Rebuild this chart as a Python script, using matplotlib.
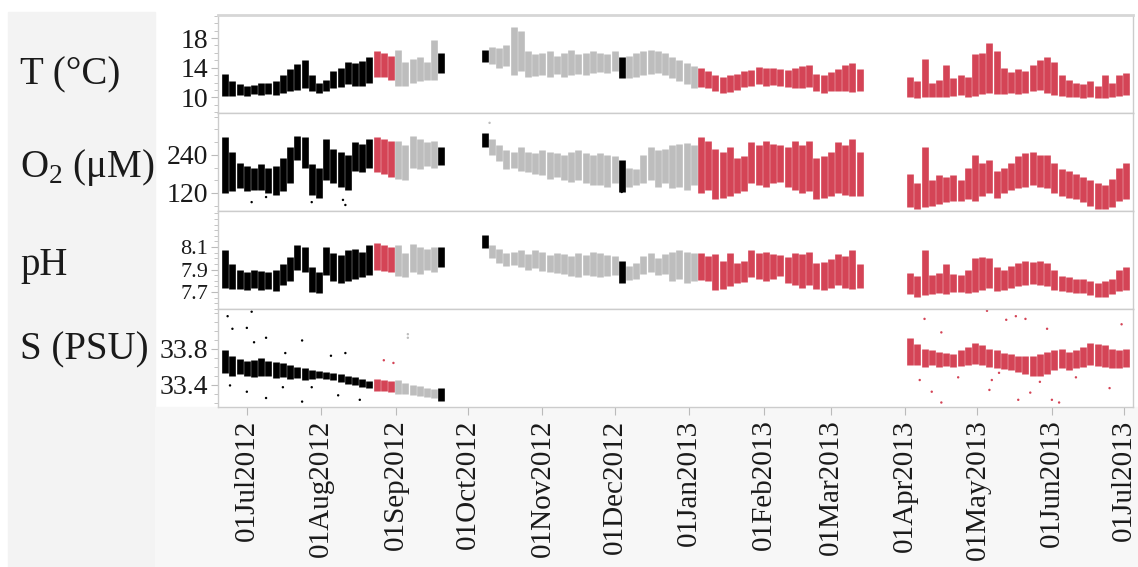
import numpy as np
import pandas as pd
import matplotlib
matplotlib.use("Agg")
import matplotlib.pyplot as plt
import matplotlib.dates as mdates
from matplotlib.ticker import MultipleLocator, FixedLocator
from matplotlib.patches import Rectangle

plt.rcParams['font.family'] = ['Liberation Serif', 'DejaVu Serif']
plt.rcParams['mathtext.fontset'] = 'custom'
plt.rcParams['mathtext.rm'] = 'Liberation Serif'

nan = np.nan

# amostras a cada 3 dias a partir de 22 Jun 2012
dates = pd.date_range("2012-06-22", periods=126, freq="3D")

# periodos de cor (inicio, cor)
period_start = pd.to_datetime(["2012-06-01", "2012-08-22", "2012-09-01", "2012-09-19",
                               "2012-10-09", "2012-12-03", "2012-12-05", "2013-01-05"])
period_colour = ["black", "red", "grey", "black", "grey", "black", "grey", "red"]

# Temperatura (faixa min / max de cada amostra)
t_lo = [10.2, 10.2, 10.3, 10.2, 10.4, 10.3, 10.5, 10.3, 10.6, 10.8,
        11.0, 11.2, 10.9, 10.6, 10.8, 11.2, 11.4, 11.8, 11.6, 11.5,
        12.0, 12.8, 12.8, 12.3, 11.6, 11.5, 12.0, 12.2, 12.4, 12.3,
        13.3, nan, nan, nan, nan, nan, 14.8, 14.5, 14.0, 14.2,
        13.0, 13.5, 12.7, 12.9, 13.0, 12.8, 13.2, 12.8, 13.0, 13.2,
        13.0, 13.3, 13.4, 13.3, 13.5, 12.6, 12.6, 12.8, 13.0, 13.2,
        13.3, 13.0, 12.6, 12.2, 11.8, 11.3, 11.4, 11.2, 10.8, 10.6,
        10.7, 11.0, 11.4, 11.6, 11.8, 11.6, 11.7, 11.5, 11.4, 11.3,
        11.2, 11.4, 10.8, 10.6, 10.8, 10.9, 10.8, 10.7, 10.8, nan,
        nan, nan, nan, nan, nan, 10.0, 9.9, 10.0, 10.1, 10.1,
        10.0, 10.2, 10.3, 10.1, 10.2, 10.4, 10.6, 10.4, 10.5, 10.6,
        10.4, 10.6, 10.8, 11.0, 10.6, 10.3, 10.2, 10.0, 10.0, 9.9,
        10.0, 9.9, 9.9, 10.0, 10.2, 10.3]
t_hi = [13.2, 12.2, 11.8, 11.6, 11.7, 11.9, 12.0, 12.2, 13.0, 13.8,
        14.5, 15.0, 13.0, 12.0, 12.4, 13.6, 14.0, 14.8, 14.6, 14.9,
        15.4, 16.2, 16.0, 15.6, 16.4, 14.8, 15.2, 15.4, 14.8, 17.8,
        16.0, nan, nan, nan, nan, nan, 16.4, 16.8, 16.6, 17.0,
        19.5, 19.0, 16.2, 15.8, 16.0, 16.3, 15.6, 16.0, 16.4, 15.8,
        16.0, 16.2, 16.0, 15.8, 16.2, 15.4, 15.6, 16.0, 16.2, 16.4,
        16.2, 16.0, 15.4, 15.0, 14.6, 14.2, 14.0, 13.6, 13.0, 12.8,
        13.0, 13.2, 13.5, 13.7, 14.1, 13.9, 14.0, 13.8, 13.7, 13.9,
        14.2, 14.4, 13.2, 13.0, 13.4, 13.8, 14.3, 14.6, 13.8, nan,
        nan, nan, nan, nan, nan, 12.7, 12.2, 15.2, 12.0, 12.4,
        14.4, 12.6, 13.0, 12.8, 15.8, 16.0, 17.3, 16.2, 14.0, 13.4,
        13.8, 13.6, 14.4, 15.0, 15.4, 14.8, 13.0, 12.4, 12.0, 11.8,
        12.2, 11.6, 13.0, 12.0, 13.0, 13.3]

# Oxigenio
o_lo = [120, 125, 135, 125, 130, 128, 120, 115, 125, 150,
        225, 200, 115, 105, 160, 150, 140, 130, 190, 185,
        200, 185, 180, 170, 165, 160, 200, 195, 205, 200,
        208, nan, nan, nan, nan, nan, 265, 240, 220, 195,
        200, 190, 185, 180, 175, 165, 170, 160, 155, 160,
        150, 145, 145, 140, 150, 123, 140, 145, 150, 160,
        140, 150, 135, 140, 130, 145, 120, 130, 100, 105,
        110, 120, 125, 150, 145, 140, 150, 155, 140, 130,
        120, 125, 100, 105, 110, 120, 115, 110, 110, nan,
        nan, nan, nan, nan, nan, 75, 70, 75, 80, 85,
        90, 95, 95, 100, 95, 110, 120, 105, 120, 130,
        135, 140, 145, 140, 135, 120, 110, 105, 100, 90,
        80, 70, 68, 75, 95, 100]
o_hi = [297, 250, 215, 205, 200, 210, 200, 205, 230, 265,
        300, 295, 210, 200, 290, 260, 250, 240, 280, 275,
        290, 295, 290, 285, 285, 270, 300, 290, 280, 285,
        265, nan, nan, nan, nan, nan, 310, 290, 270, 255,
        250, 265, 250, 245, 255, 250, 245, 240, 250, 255,
        245, 240, 245, 240, 235, 224, 200, 195, 240, 265,
        255, 260, 270, 275, 278, 270, 297, 285, 260, 250,
        265, 230, 235, 280, 270, 285, 275, 270, 265, 285,
        270, 285, 230, 235, 250, 280, 270, 290, 250, nan,
        nan, nan, nan, nan, nan, 180, 150, 265, 160, 175,
        170, 175, 160, 200, 240, 215, 225, 190, 200, 215,
        235, 245, 250, 240, 240, 215, 195, 190, 180, 170,
        160, 150, 145, 165, 200, 215]

# pH
p_lo = [7.74, 7.73, 7.73, 7.72, 7.74, 7.72, 7.73, 7.71, 7.76, 7.80,
        7.90, 7.88, 7.70, 7.69, 7.85, 7.80, 7.78, 7.80, 7.82, 7.83,
        7.85, 7.90, 7.89, 7.88, 7.84, 7.83, 7.88, 7.86, 7.90, 7.88,
        7.92, nan, nan, nan, nan, nan, 8.09, 8.00, 7.96, 7.93,
        7.94, 7.92, 7.90, 7.91, 7.89, 7.88, 7.87, 7.86, 7.84, 7.83,
        7.85, 7.84, 7.83, 7.84, 7.85, 7.78, 7.81, 7.82, 7.86, 7.88,
        7.85, 7.86, 7.80, 7.82, 7.78, 7.80, 7.81, 7.80, 7.72, 7.73,
        7.75, 7.78, 7.79, 7.83, 7.82, 7.80, 7.82, 7.84, 7.78, 7.76,
        7.74, 7.76, 7.73, 7.72, 7.74, 7.76, 7.74, 7.73, 7.74, nan,
        nan, nan, nan, nan, nan, 7.68, 7.66, 7.67, 7.68, 7.69,
        7.68, 7.70, 7.70, 7.69, 7.70, 7.72, 7.74, 7.71, 7.72, 7.74,
        7.75, 7.76, 7.77, 7.76, 7.75, 7.72, 7.71, 7.70, 7.69, 7.69,
        7.67, 7.66, 7.66, 7.68, 7.71, 7.72]
p_hi = [8.07, 7.95, 7.90, 7.88, 7.90, 7.89, 7.88, 7.90, 7.95, 8.01,
        8.12, 8.10, 7.92, 7.88, 8.10, 8.05, 8.03, 8.07, 8.08, 8.06,
        8.12, 8.14, 8.12, 8.10, 8.12, 8.05, 8.13, 8.10, 8.08, 8.10,
        8.10, nan, nan, nan, nan, nan, 8.21, 8.12, 8.08, 8.05,
        8.06, 8.07, 8.04, 8.07, 8.06, 8.03, 8.05, 8.04, 8.02, 8.05,
        8.03, 8.06, 8.05, 8.03, 8.02, 7.98, 7.93, 7.96, 8.02, 8.05,
        8.00, 8.04, 8.06, 8.07, 8.06, 8.05, 8.05, 8.02, 8.04, 7.98,
        8.05, 7.96, 7.98, 8.07, 8.05, 8.06, 8.04, 8.03, 8.01, 8.05,
        8.04, 8.06, 7.96, 7.97, 7.99, 8.04, 8.02, 8.07, 7.95, nan,
        nan, nan, nan, nan, nan, 7.87, 7.84, 8.07, 7.85, 7.87,
        7.95, 7.86, 7.85, 7.90, 8.00, 8.01, 8.00, 7.92, 7.90, 7.93,
        7.96, 7.98, 7.97, 7.98, 7.96, 7.90, 7.84, 7.83, 7.82, 7.82,
        7.80, 7.78, 7.80, 7.82, 7.90, 7.92]

# Salinidade
s_lo = ([33.53, 33.50, 33.52, 33.50, 33.48, 33.50, 33.49, 33.47, 33.48, 33.46,
         33.47, 33.45, 33.46, 33.47, 33.46, 33.45, 33.43, 33.41, 33.39, 33.37,
         33.36, 33.33, 33.33, 33.32, 33.30, 33.30, 33.28, 33.27, 33.26, 33.25,
         33.22] + [nan] * 64 +
        [33.62, 33.62, 33.60, 33.62, 33.60,
         33.61, 33.60, 33.61, 33.62, 33.63, 33.62, 33.60, 33.58, 33.57, 33.56,
         33.54, 33.52, 33.50, 33.50, 33.52, 33.56, 33.58, 33.56, 33.58, 33.60,
         33.62, 33.61, 33.60, 33.58, 33.58, 33.60])
s_hi = ([33.78, 33.72, 33.68, 33.66, 33.67, 33.70, 33.66, 33.65, 33.64, 33.62,
         33.60, 33.58, 33.56, 33.55, 33.54, 33.53, 33.52, 33.50, 33.48, 33.46,
         33.44, 33.46, 33.45, 33.44, 33.45, 33.42, 33.40, 33.38, 33.36, 33.35,
         33.36] + [nan] * 64 +
        [33.92, 33.85, 33.80, 33.78, 33.76,
         33.75, 33.74, 33.78, 33.82, 33.86, 33.84, 33.80, 33.78, 33.75, 33.74,
         33.72, 33.72, 33.72, 33.74, 33.76, 33.78, 33.80, 33.76, 33.78, 33.82,
         33.86, 33.85, 33.84, 33.80, 33.78, 33.80])

# pontos isolados
o_out_dates = ["2012-07-03", "2012-07-09", "2012-07-28", "2012-08-10", "2012-08-11",
               "2012-10-10", "2012-12-04"]
o_out_vals = [91, 107, 91, 98, 82, 341, 123]
s_out_dates = ["2012-06-23", "2012-06-24", "2012-06-25", "2012-07-01", "2012-07-01",
               "2012-07-03", "2012-07-04", "2012-07-09", "2012-07-09", "2012-07-16",
               "2012-07-17", "2012-07-24", "2012-07-24", "2012-07-28", "2012-08-05",
               "2012-08-08", "2012-08-11", "2012-08-17", "2012-08-27", "2012-08-31",
               "2012-09-06", "2012-09-06",
               "2013-04-07", "2013-04-09", "2013-04-12", "2013-04-16", "2013-04-16",
               "2013-04-23", "2013-05-05", "2013-05-06", "2013-05-07", "2013-05-10",
               "2013-05-13", "2013-05-17", "2013-05-18", "2013-05-21", "2013-05-23",
               "2013-05-27", "2013-05-30", "2013-06-01", "2013-06-04", "2013-06-11",
               "2013-06-25", "2013-06-30"]
s_out_vals = [34.16, 33.39, 34.02, 34.03, 33.32, 34.21, 33.87, 33.92, 33.25, 33.37,
              33.75, 33.89, 33.21, 33.37, 33.72, 33.28, 33.75, 33.23, 33.67, 33.64,
              33.96, 33.92,
              33.45, 34.13, 33.32, 33.98, 33.20, 33.48, 34.22, 33.34, 33.45, 33.53,
              34.12, 34.16, 33.23, 34.13, 33.31, 33.43, 34.02, 33.23, 33.20, 33.48,
              33.36, 34.07]

panel_labels = ["T (°C)", r"O$_{\mathregular{2}}$ (μM)", "pH", "S (PSU)"]
colour_map = {"black": "#000000", "red": "#d44456", "grey": "#bdbdbd"}


def colours_for(d):
    idx = np.searchsorted(period_start.values, pd.to_datetime(d).values, side="right") - 1
    return [colour_map[period_colour[i]] for i in idx]


W, H = 1138, 567
fig = plt.figure(figsize=(W / 100, H / 100), dpi=100)
fig.patches.append(Rectangle((8 / W, 0), 147 / W, (H - 12) / H, transform=fig.transFigure,
                             color="#f3f3f3", zorder=-2))
fig.patches.append(Rectangle((155 / W, 0), (W - 155) / W, (H - 407) / H,
                             transform=fig.transFigure, color="#f7f7f7", zorder=-2))

x0, x1 = 218, 1133
tops = [15, 113, 211, 309]
ph = 98
series = [(t_lo, t_hi), (o_lo, o_hi), (p_lo, p_hi), (s_lo, s_hi)]
ylims = [(7.9, 21.1), (63, 372), (7.55, 8.42), (33.15, 34.24)]
majors = [[10, 14, 18], [120, 240], [7.7, 7.9, 8.1], [33.4, 33.8]]
minors = [1, 40, 0.05, 0.1]
label_y = [75, 168, 266, 350]
tick_fmt = ["{:.0f}", "{:.0f}", "{:.1f}", "{:.1f}"]
tick_size = [20, 20, 16, 20]

sample_cols = np.array(colours_for(dates))
axes = []
for i in range(4):
    ax = fig.add_axes([x0 / W, 1 - (tops[i] + ph) / H, (x1 - x0) / W, ph / H])
    ax.set_facecolor("white")
    lo = np.array(series[i][0], dtype=float)
    hi = np.array(series[i][1], dtype=float)
    ok = ~np.isnan(lo)
    ax.vlines(dates[ok], lo[ok], hi[ok], colors=sample_cols[ok], linewidth=4.8)
    ax.set_ylim(*ylims[i])
    ax.set_xlim(pd.Timestamp("2012-06-19"), pd.Timestamp("2013-07-04 18:00"))
    ax.yaxis.set_major_locator(FixedLocator(majors[i]))
    ax.yaxis.set_minor_locator(MultipleLocator(minors[i]))
    ax.set_yticklabels([tick_fmt[i].format(v) for v in majors[i]])
    ax.tick_params(axis="y", which="both", direction="out", color="#bbbbbb",
                   labelsize=tick_size[i], pad=2, labelcolor="#1a1a1a")
    ax.tick_params(axis="y", which="major", length=5)
    ax.tick_params(axis="y", which="minor", length=3)
    for s in ax.spines.values():
        s.set_color("#cccccc")
        s.set_linewidth(1.0)
    fig.text(20 / W, 1 - label_y[i] / H, panel_labels[i], fontsize=28, va="center",
             ha="left", color="#1a1a1a")
    axes.append(ax)

axes[0].spines["top"].set_linewidth(2.0)
axes[0].spines["top"].set_color("#d6d6d6")

# pontos isolados
o_d = pd.to_datetime(o_out_dates)
axes[1].scatter(o_d, o_out_vals, s=3, c=colours_for(o_d), linewidths=0)
s_d = pd.to_datetime(s_out_dates)
axes[3].scatter(s_d, s_out_vals, s=3, c=colours_for(s_d), linewidths=0)

for ax in axes[:3]:
    ax.tick_params(axis="x", which="both", bottom=False, labelbottom=False)

bx = axes[3]
bx.xaxis.set_major_locator(mdates.MonthLocator(bymonthday=1))
bx.xaxis.set_major_formatter(mdates.DateFormatter("%d%b%Y"))
bx.tick_params(axis="x", which="major", direction="out", length=6, color="#bbbbbb",
               labelsize=21, labelrotation=90, pad=3, labelcolor="#1a1a1a")

fig.savefig("out.png", dpi=100)
